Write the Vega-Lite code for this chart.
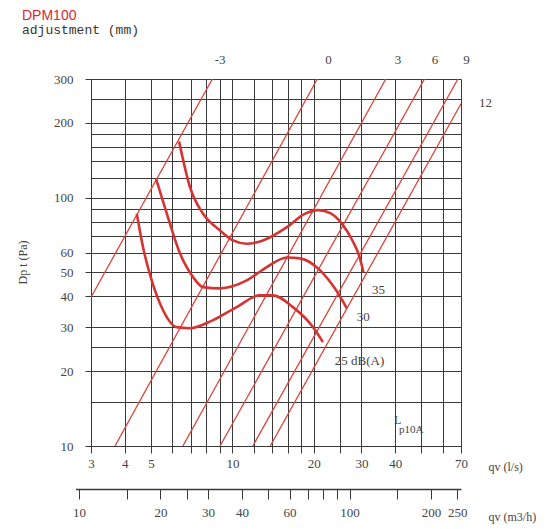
{
  "$schema": "https://vega.github.io/schema/vega-lite/v6.json",
  "width": 370,
  "height": 367,
  "autosize": {"type": "none"},
  "padding": {"left": 91, "top": 79, "right": 92, "bottom": 83},
  "background": "white",
  "title": {
    "text": "DPM100",
    "subtitle": "adjustment  (mm)",
    "anchor": "start",
    "frame": "group",
    "dx": -69,
    "offset": 17,
    "color": "#d8282e",
    "font": "Liberation Sans",
    "fontSize": 14,
    "fontWeight": "normal",
    "subtitleFont": "Liberation Mono",
    "subtitleFontSize": 13,
    "subtitleColor": "#333333",
    "subtitlePadding": 1
  },
  "datasets": {
    "adjust": [
      {"adj": "-3", "q": 3, "dp": 39.7},
      {"adj": "-3", "q": 8.43, "dp": 300},
      {"adj": "0", "q": 3.68, "dp": 10},
      {"adj": "0", "q": 20.6, "dp": 300},
      {"adj": "3", "q": 6.56, "dp": 10},
      {"adj": "3", "q": 36.9, "dp": 300},
      {"adj": "6", "q": 9.0, "dp": 10},
      {"adj": "6", "q": 51.3, "dp": 300},
      {"adj": "9", "q": 11.9, "dp": 10},
      {"adj": "9", "q": 68.2, "dp": 300},
      {"adj": "12", "q": 13.8, "dp": 10},
      {"adj": "12", "q": 70, "dp": 238.6}
    ],
    "curves": [
      {"db": "35", "q": 6.35, "dp": 168},
      {"db": "35", "q": 6.97, "dp": 110},
      {"db": "35", "q": 7.78, "dp": 86.2},
      {"db": "35", "q": 9.0, "dp": 73.7},
      {"db": "35", "q": 10.05, "dp": 67.2},
      {"db": "35", "q": 11.3, "dp": 65.2},
      {"db": "35", "q": 12.97, "dp": 67.2},
      {"db": "35", "q": 15.9, "dp": 76},
      {"db": "35", "q": 18.5, "dp": 86},
      {"db": "35", "q": 20.8, "dp": 89},
      {"db": "35", "q": 23, "dp": 86.5},
      {"db": "35", "q": 25.5, "dp": 78},
      {"db": "35", "q": 27.8, "dp": 67},
      {"db": "35", "q": 29.6, "dp": 57},
      {"db": "35", "q": 30.5, "dp": 50},
      {"db": "30", "q": 5.22, "dp": 118.9},
      {"db": "30", "q": 5.72, "dp": 86.2},
      {"db": "30", "q": 6.4, "dp": 59.6},
      {"db": "30", "q": 7.15, "dp": 47.9},
      {"db": "30", "q": 7.78, "dp": 43.6},
      {"db": "30", "q": 9.0, "dp": 43.1},
      {"db": "30", "q": 11.3, "dp": 46.4},
      {"db": "30", "q": 13.4, "dp": 52.5},
      {"db": "30", "q": 15.9, "dp": 57.4},
      {"db": "30", "q": 17.8, "dp": 56.9},
      {"db": "30", "q": 21.1, "dp": 50.9},
      {"db": "30", "q": 23.9, "dp": 43.1},
      {"db": "30", "q": 26.5, "dp": 35.8},
      {"db": "25", "q": 4.43, "dp": 86},
      {"db": "25", "q": 4.67, "dp": 63.2},
      {"db": "25", "q": 5.03, "dp": 46.4},
      {"db": "25", "q": 5.54, "dp": 35.2},
      {"db": "25", "q": 6.22, "dp": 30.1},
      {"db": "25", "q": 6.97, "dp": 29.8},
      {"db": "25", "q": 8.48, "dp": 32.1},
      {"db": "25", "q": 10.4, "dp": 36.3},
      {"db": "25", "q": 12.6, "dp": 40.4},
      {"db": "25", "q": 14.1, "dp": 40.4},
      {"db": "25", "q": 16.7, "dp": 36.3},
      {"db": "25", "q": 19.85, "dp": 30.1},
      {"db": "25", "q": 21.6, "dp": 26.2}
    ],
    "toplabels": [
      {"t": "-3", "q": 9.0, "dp": 300},
      {"t": "0", "q": 22.65, "dp": 300},
      {"t": "3", "q": 40.9, "dp": 300},
      {"t": "6", "q": 56.1, "dp": 300},
      {"t": "9", "q": 73.3, "dp": 300}
    ],
    "notes": [
      {"t": "12", "q": 81.6, "dp": 240, "size": 13},
      {"t": "35", "q": 32.8, "dp": 42.3, "size": 13},
      {"t": "30", "q": 28.8, "dp": 33.1, "size": 13},
      {"t": "25  dB(A)", "q": 23.9, "dp": 22.0, "size": 13},
      {"t": "L", "q": 39.6, "dp": 12.7, "size": 12},
      {"t": "p10A", "q": 41.3, "dp": 11.6, "size": 11}
    ],
    "m3h": [{"v": 10}, {"v": 258}]
  },
  "layer": [
    {
      "layer": [
        {
          "data": {"name": "adjust"},
          "mark": {"type": "line", "color": "#d9453a", "strokeWidth": 1.3, "clip": true},
          "encoding": {
            "x": {
              "field": "q", "type": "quantitative",
              "scale": {"type": "log", "domain": [3, 70], "nice": false},
              "axis": {
                "values": [3, 4, 5, 6, 7, 8, 9, 10, 12, 14, 16, 18, 20, 25, 30, 40, 50, 60, 70],
                "labelExpr": "indexof([3,4,5,10,20,30,40,70], datum.value) >= 0 ? datum.label : ''",
                "labelOverlap": false,
                "labelFlush": false,
                "grid": true,
                "gridColor": "#3a3a3a",
                "gridWidth": 1,
                "gridOpacity": 1,
                "domainColor": "#3a3a3a",
                "tickColor": "#3a3a3a",
                "tickSize": 7,
                "labelPadding": 4,
                "labelFont": "Liberation Serif",
                "labelFontSize": 13,
                "labelColor": "#444444",
                "title": "qv (l/s)",
                "titleFont": "Liberation Serif",
                "titleFontSize": 12,
                "titleFontWeight": "normal",
                "titleColor": "#444444",
                "titleX": 397,
                "titleY": 20,
                "titleAlign": "left",
                "titleBaseline": "middle",
                "titleAnchor": null
              }
            },
            "y": {
              "field": "dp", "type": "quantitative",
              "scale": {"type": "log", "domain": [10, 300], "nice": false},
              "axis": {
                "values": [10, 15, 20, 25, 30, 40, 50, 60, 70, 80, 90, 100, 120, 140, 160, 180, 200, 250, 300],
                "labelExpr": "indexof([10,20,30,40,50,60,100,200,300], datum.value) >= 0 ? datum.label : ''",
                "labelOverlap": false,
                "labelFlush": false,
                "grid": true,
                "gridColor": "#3a3a3a",
                "gridWidth": 1,
                "gridOpacity": 1,
                "domainColor": "#3a3a3a",
                "tickColor": "#3a3a3a",
                "tickOpacity": {"condition": {"test": "indexof([10,20,30,40,50,60,100,200,300], datum.value) >= 0", "value": 1}, "value": 0},
                "tickSize": 6,
                "labelPadding": 12,
                "labelFont": "Liberation Serif",
                "labelFontSize": 13,
                "labelColor": "#444444",
                "title": "Dp t (Pa)",
                "titleFont": "Liberation Serif",
                "titleFontSize": 12,
                "titleFontWeight": "normal",
                "titleColor": "#444444",
                "titleX": -69,
                "titleY": 183,
                "titleAngle": -90,
                "titleAlign": "center",
                "titleBaseline": "middle"
              }
            },
            "detail": {"field": "adj"}
          }
        },
        {
          "data": {"name": "curves"},
          "mark": {"type": "line", "color": "#d63333", "strokeWidth": 2.6, "interpolate": "monotone", "clip": true},
          "encoding": {
            "x": {"field": "q", "type": "quantitative"},
            "y": {"field": "dp", "type": "quantitative"},
            "detail": {"field": "db"}
          }
        },
        {
          "data": {"name": "toplabels"},
          "mark": {"type": "text", "font": "Liberation Serif", "fontSize": 13, "color": "#444444", "align": "center", "baseline": "middle", "dy": -19},
          "encoding": {
            "x": {"field": "q", "type": "quantitative"},
            "y": {"field": "dp", "type": "quantitative"},
            "text": {"field": "t"}
          }
        },
        {
          "data": {"name": "notes"},
          "mark": {"type": "text", "font": "Liberation Serif", "color": "#444444", "align": "left", "baseline": "middle"},
          "encoding": {
            "x": {"field": "q", "type": "quantitative"},
            "y": {"field": "dp", "type": "quantitative"},
            "text": {"field": "t"},
            "size": {"field": "size", "type": "quantitative", "scale": null}
          }
        }
      ]
    },
    {
      "data": {"name": "m3h"},
      "mark": {"type": "point", "opacity": 0},
      "encoding": {
        "x": {
          "field": "v", "type": "quantitative",
          "scale": {"type": "log", "domain": [9.7, 258], "range": [-15.6, 370], "nice": false},
          "axis": {
            "orient": "bottom",
            "offset": 43,
            "values": [10, 15, 20, 25, 30, 40, 50, 60, 70, 80, 90, 100, 150, 200, 250],
            "labelExpr": "indexof([10,20,30,40,60,100,200,250], datum.value) >= 0 ? datum.label : ''",
            "labelOverlap": false,
            "labelFlush": false,
            "grid": false,
            "domainColor": "#3a3a3a",
            "domainWidth": 1.5,
            "tickColor": "#3a3a3a",
            "tickSize": 10,
            "labelPadding": 7,
            "labelFont": "Liberation Serif",
            "labelFontSize": 13,
            "labelColor": "#444444",
            "title": "qv (m3/h)",
            "titleFont": "Liberation Serif",
            "titleFontSize": 12,
            "titleFontWeight": "normal",
            "titleColor": "#444444",
            "titleX": 397,
            "titleY": 27,
            "titleAlign": "left",
            "titleBaseline": "middle"
          }
        }
      }
    }
  ],
  "resolve": {"scale": {"x": "independent"}}
}
